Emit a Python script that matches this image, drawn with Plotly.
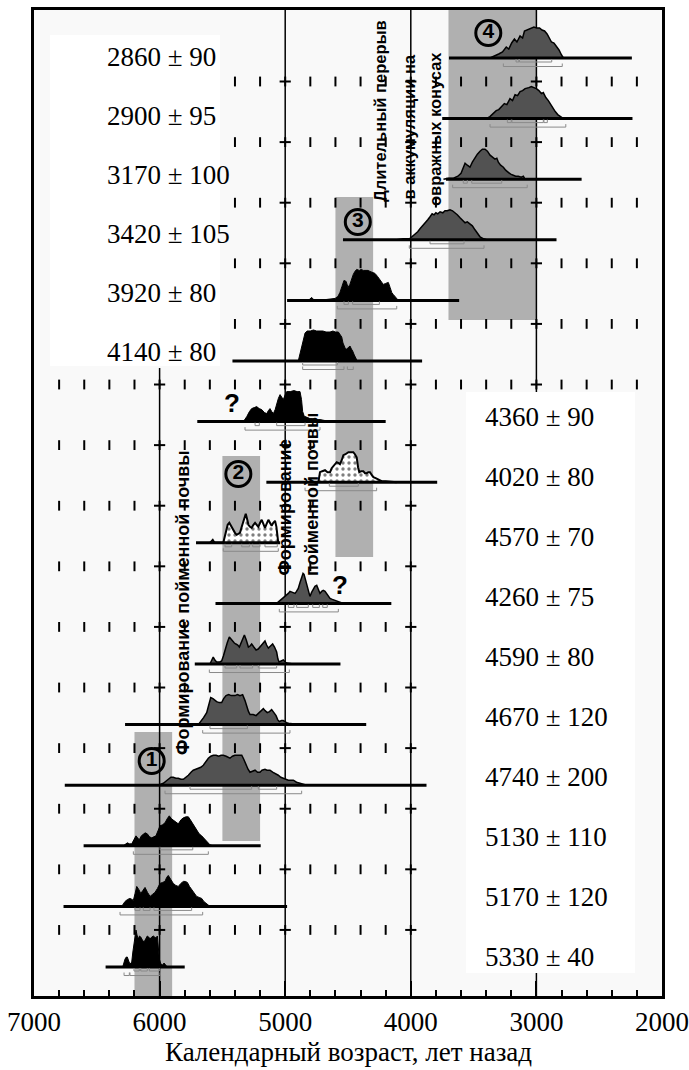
import plotly.graph_objects as go

# ---------------- data ----------------
labels = ["2860 ± 90", "2900 ± 95", "3170 ± 100", "3420 ± 105", "3920 ± 80", "4140 ± 80",
          "4360 ± 90", "4020 ± 80", "4570 ± 70", "4260 ± 75", "4590 ± 80", "4670 ± 120",
          "4740 ± 200", "5130 ± 110", "5170 ± 120", "5330 ± 40"]
styles = ["gray"] * 4 + ["black"] * 3 + ["dots"] * 2 + ["gray"] * 4 + ["black"] * 3
base_from = [3696, 3750, 3720, 4540, 4985, 5420, 5700, 5150, 5710, 5555, 5720, 6275, 6755, 6605, 6765, 6430]
base_to = [2240, 2235, 2640, 2840, 3615, 3910, 4200, 3790, 5040, 4155, 4560, 4355, 3875, 5195, 4985, 5800]

# calibrated probability (calendar year BP, relative density)
d_2860 = [(3370, 0), (3330, 2), (3300, 4), (3270, 6), (3240, 11), (3220, 9), (3197, 15), (3175, 19), (3155, 16),
          (3130, 22), (3110, 20), (3095, 27), (3075, 28), (3050, 29), (3020, 31), (2998, 30), (2975, 30), (2955, 28),
          (2935, 27), (2915, 24), (2900, 20), (2880, 16), (2860, 15), (2840, 12), (2820, 8), (2800, 3), (2785, 0)]
d_2900 = [(3400, 0), (3370, 2), (3345, 5), (3320, 8), (3300, 9), (3280, 12), (3255, 15), (3235, 14), (3210, 20),
          (3190, 18), (3170, 24), (3150, 23), (3130, 27), (3110, 28), (3090, 30), (3060, 31), (3040, 32), (3020, 31),
          (3000, 30), (2980, 28), (2960, 25), (2945, 26), (2925, 21), (2905, 18), (2890, 15), (2870, 10), (2850, 7),
          (2830, 4), (2810, 2), (2785, 0)]
d_3170 = [(3740, 0), (3700, 1), (3660, 1), (3625, 3), (3600, 6), (3585, 10), (3568, 16), (3550, 14), (3529, 12),
          (3510, 17), (3489, 22), (3470, 25), (3449, 28), (3430, 30), (3409, 30), (3390, 28), (3369, 24), (3350, 22),
          (3330, 20), (3315, 21), (3303, 17), (3285, 14), (3263, 12), (3245, 9), (3224, 7), (3205, 5), (3184, 4),
          (3165, 3), (3144, 3), (3120, 2), (3104, 3), (3091, 0)]
d_3420 = [(4112, 0), (4060, 1), (4010, 1), (3990, 3), (3967, 5), (3945, 8), (3927, 11), (3905, 14), (3887, 16),
          (3865, 20), (3847, 23), (3830, 26), (3815, 25), (3800, 27), (3785, 26), (3767, 28), (3745, 27), (3728, 29),
          (3710, 29), (3688, 30), (3668, 29), (3648, 27), (3630, 25), (3608, 22), (3590, 20), (3568, 17), (3550, 18),
          (3529, 16), (3510, 14), (3489, 10), (3470, 6), (3449, 3), (3420, 1), (3396, 0)]
d_3920 = [(4816, 0), (4800, 2), (4789, 3), (4775, 1), (4749, 0.5), (4700, 0.5), (4650, 1), (4603, 2), (4580, 4),
          (4564, 8), (4548, 14), (4532, 20), (4515, 19), (4500, 13), (4485, 16), (4470, 22), (4458, 26), (4445, 29),
          (4431, 31), (4410, 30), (4395, 31), (4378, 30), (4360, 30), (4340, 30), (4325, 29), (4305, 28), (4285, 27),
          (4265, 24), (4245, 20), (4230, 18), (4219, 16), (4200, 17), (4179, 18), (4165, 13), (4152, 8), (4140, 6),
          (4126, 4), (4110, 2), (4099, 0)]
d_4140 = [(4896, 0), (4880, 8), (4869, 15), (4855, 22), (4842, 28), (4825, 30), (4800, 30), (4775, 31), (4750, 30),
          (4723, 30), (4700, 30), (4675, 29), (4643, 29), (4620, 30), (4600, 29), (4577, 29), (4560, 26), (4550, 24),
          (4540, 18), (4532, 15), (4520, 12), (4510, 12), (4497, 14), (4484, 15), (4473, 12), (4463, 10), (4450, 6),
          (4437, 3), (4426, 0)]
d_4360 = [(5333, 0), (5320, 2), (5306, 5), (5285, 10), (5267, 13), (5247, 14), (5227, 15), (5207, 13), (5187, 12),
          (5165, 9), (5147, 8), (5134, 11), (5121, 13), (5107, 10), (5094, 8), (5080, 12), (5068, 18), (5055, 23),
          (5041, 27), (5028, 25), (5015, 22), (5000, 27), (4988, 30), (4960, 30), (4930, 31), (4905, 30), (4882, 30),
          (4870, 22), (4861, 10), (4850, 6), (4842, 5), (4820, 4), (4803, 3), (4780, 3), (4750, 2), (4723, 2),
          (4680, 1), (4643, 1), (4603, 0)]
d_4020 = [(4736, 0), (4723, 10), (4705, 11), (4683, 12), (4663, 10), (4643, 10), (4630, 14), (4617, 16), (4605, 17),
          (4590, 20), (4575, 19), (4564, 18), (4550, 22), (4537, 27), (4520, 28), (4497, 30), (4478, 30), (4458, 30),
          (4445, 28), (4431, 25), (4420, 15), (4410, 10), (4395, 11), (4378, 11), (4365, 9), (4351, 9), (4338, 10),
          (4325, 10), (4310, 7), (4298, 5), (4280, 4), (4259, 3), (4232, 1), (4200, 1), (4166, 0.5), (4112, 0)]
d_4570 = [(5599, 0), (5585, 2), (5577, 3), (5568, 1), (5559, 0), (5493, 0), (5480, 6), (5471, 12), (5458, 18),
          (5445, 20), (5432, 17), (5418, 14), (5400, 10), (5386, 8), (5372, 9), (5360, 10), (5346, 16), (5333, 22),
          (5320, 27), (5314, 29), (5300, 22), (5293, 18), (5280, 16), (5267, 15), (5253, 18), (5240, 20), (5227, 18),
          (5214, 16), (5200, 20), (5187, 23), (5174, 19), (5161, 15), (5148, 19), (5134, 23), (5121, 20), (5108, 17),
          (5095, 20), (5081, 22), (5070, 16), (5063, 10), (5055, 0)]
d_4260 = [(5068, 0), (5041, 3), (5015, 5), (4988, 8), (4975, 10), (4962, 12), (4945, 11), (4922, 10), (4910, 12),
          (4896, 15), (4882, 21), (4869, 27), (4858, 30), (4850, 29), (4840, 24), (4829, 18), (4815, 12), (4803, 7),
          (4790, 11), (4776, 15), (4763, 17), (4749, 18), (4736, 14), (4723, 10), (4710, 12), (4697, 13), (4683, 12),
          (4670, 10), (4657, 7), (4643, 5), (4625, 4), (4603, 3), (4580, 2), (4564, 1), (4537, 0)]
d_4590 = [(5599, 0), (5586, 4), (5573, 7), (5560, 4), (5546, 2), (5520, 2), (5506, 3), (5492, 8), (5479, 15),
          (5462, 21), (5445, 27), (5432, 25), (5418, 22), (5405, 21), (5392, 20), (5378, 19), (5365, 17), (5350, 22),
          (5337, 27), (5325, 29), (5310, 24), (5293, 17), (5280, 18), (5267, 20), (5250, 17), (5232, 14), (5215, 15),
          (5201, 17), (5185, 20), (5174, 22), (5161, 23), (5148, 19), (5134, 16), (5117, 18), (5100, 20), (5085, 17),
          (5068, 12), (5058, 5), (5049, 2), (5032, 3), (5015, 4), (5000, 2), (4988, 1), (4935, 0)]
d_4670 = [(5692, 0), (5673, 3), (5650, 7), (5625, 12), (5610, 20), (5593, 27), (5575, 26), (5560, 24), (5546, 23),
          (5525, 22), (5506, 22), (5490, 26), (5471, 29), (5450, 30), (5430, 29), (5400, 29), (5380, 30), (5360, 29),
          (5339, 30), (5320, 24), (5306, 18), (5292, 13), (5280, 10), (5255, 10), (5232, 9), (5215, 11), (5201, 13),
          (5188, 15), (5174, 16), (5160, 14), (5143, 12), (5125, 13), (5108, 15), (5090, 12), (5073, 9), (5060, 5),
          (5047, 3), (5030, 4), (5015, 4), (4990, 2), (4962, 1), (4920, 0.5), (4882, 0)]
d_4740 = [(6010, 0), (5970, 2), (5950, 4), (5931, 6), (5910, 8), (5891, 8), (5870, 7), (5851, 7), (5830, 6),
          (5811, 6), (5790, 8), (5771, 10), (5750, 13), (5732, 15), (5712, 16), (5692, 17), (5672, 18), (5652, 20),
          (5632, 24), (5612, 27), (5592, 29), (5572, 30), (5550, 30), (5530, 29), (5510, 30), (5493, 30), (5470, 29),
          (5455, 28), (5440, 27), (5420, 29), (5400, 30), (5375, 30), (5346, 30), (5330, 26), (5312, 20), (5296, 16),
          (5280, 13), (5260, 14), (5240, 15), (5220, 13), (5201, 13), (5185, 15), (5161, 16), (5145, 15), (5121, 15),
          (5100, 13), (5081, 12), (5055, 10), (5035, 8), (5015, 7), (4995, 6), (4975, 5), (4955, 5), (4935, 5),
          (4910, 3), (4882, 2), (4860, 1), (4842, 0.5), (4700, 0.3), (4540, 0)]
d_5130 = [(6289, 0), (6270, 2), (6257, 3), (6240, 2), (6222, 2), (6205, 6), (6188, 10), (6175, 8), (6162, 6),
          (6145, 10), (6130, 12), (6115, 13), (6098, 12), (6080, 9), (6063, 8), (6045, 9), (6029, 10), (6013, 15),
          (5997, 20), (5977, 21), (5957, 23), (5940, 27), (5923, 30), (5905, 27), (5885, 25), (5868, 23), (5851, 22),
          (5830, 26), (5811, 28), (5790, 29), (5771, 29), (5755, 26), (5736, 22), (5720, 18), (5705, 15), (5685, 12),
          (5665, 10), (5645, 7), (5625, 5), (5610, 2), (5599, 1), (5573, 0)]
d_5170 = [(6302, 0), (6290, 2), (6275, 5), (6255, 7), (6236, 8), (6220, 7), (6209, 6), (6195, 13), (6182, 20),
          (6166, 17), (6150, 13), (6133, 16), (6116, 19), (6096, 14), (6076, 10), (6057, 12), (6037, 14), (6017, 18),
          (5997, 23), (5977, 24), (5957, 25), (5944, 29), (5931, 31), (5911, 27), (5891, 23), (5871, 21), (5851, 20),
          (5831, 23), (5811, 25), (5795, 25), (5779, 24), (5762, 20), (5745, 17), (5725, 13), (5705, 10), (5685, 9),
          (5665, 8), (5648, 5), (5631, 3), (5615, 1), (5599, 0)]
d_5330 = [(6294, 0), (6285, 4), (6275, 8), (6265, 10), (6257, 10), (6246, 6), (6236, 3), (6228, 4), (6222, 5),
          (6213, 15), (6204, 25), (6196, 33), (6188, 37), (6180, 32), (6170, 28), (6160, 31), (6150, 30), (6137, 27),
          (6124, 25), (6111, 28), (6098, 31), (6087, 30), (6076, 28), (6063, 30), (6050, 31), (6040, 30), (6029, 29),
          (6018, 31), (6010, 20), (6002, 8), (5990, 3), (5975, 2), (5965, 4), (5957, 3), (5945, 1), (5939, 0)]
dists = [d_2860, d_2900, d_3170, d_3420, d_3920, d_4140, d_4360, d_4020, d_4570, d_4260, d_4590, d_4670,
         d_4740, d_5130, d_5170, d_5330]

# 1-sigma and 2-sigma calibrated ranges
s1 = [[(3162, 3140), (3135, 2878)], [(3231, 3200), (3195, 2945), (2940, 2913)], [(3582, 3550), (3515, 3276)],
      [(3847, 3576)], [(4532, 4497), (4463, 4250)], [(4861, 4585)], [(5240, 5206), (5068, 4842)], [(4649, 4418)],
      [(5479, 5426), (5346, 5285), (5259, 5201), (5161, 5063)],
      [(4975, 4930), (4909, 4816), (4781, 4728), (4701, 4665)],
      [(5479, 5386), (5360, 5259), (5214, 5068)], [(5599, 5301)], [(5758, 5267), (5214, 5068)], [(5997, 5736)],
      [(6196, 6156), (6130, 6076), (6045, 5745)], [(6204, 6162), (6150, 6098), (6082, 6002)]]
s2 = [[(3263, 2794)], [(3369, 2766)], [(3667, 3073)], [(4012, 3417)], [(4585, 4112)],
      [(4861, 4532), (4505, 4458)], [(5320, 4723)], [(4842, 4272)], [(5493, 5055)], [(5047, 4577)],
      [(5604, 4967)], [(5657, 4962)], [(5957, 4869)], [(6209, 5612)], [(6315, 5657)],
      [(6283, 6241), (6236, 5997)]]

x_major = [7000, 6000, 5000, 4000, 3000, 2000]
x_minor = [y for y in range(2200, 7000, 200) if y % 1000]

# ---------------- layout helpers ----------------
N = len(labels)
PX = 60.6          # pixels per row
Y_MIN, Y_MAX = -0.478, 15.792


def base(r):
    return (N - 1) - r


def py(px):  # pixel row (from figure top) to y-units
    return (N - 1) - (px - 58.0) / PX


def pp(px):  # pixel row to paper fraction
    return (py(px) - Y_MIN) / (Y_MAX - Y_MIN)


fig = go.Figure()

# distributions
for r in range(N):
    b = base(r)
    xs = [p[0] for p in dists[r]]
    ys = [b + p[1] / PX for p in dists[r]]
    xs = [xs[0]] + xs + [xs[-1]]
    ys = [b] + ys + [b]
    st = styles[r]
    kw = dict(x=xs, y=ys, mode="lines", fill="toself", hoverinfo="skip")
    if st == "gray":
        kw.update(fillcolor="#525252", line=dict(color="black", width=1.5))
    elif st == "black":
        kw.update(fillcolor="black", line=dict(color="black", width=1))
    else:
        kw.update(fillcolor="white", line=dict(color="black", width=2),
                  fillpattern=dict(shape=".", fgcolor="black", bgcolor="white", size=6, solidity=0.25))
    fig.add_trace(go.Scatter(**kw))

# baselines
bx, by = [], []
for r in range(N):
    bx += [base_from[r], base_to[r], None]
    by += [base(r), base(r), None]
fig.add_trace(go.Scatter(x=bx, y=by, mode="lines", line=dict(color="black", width=3), hoverinfo="skip"))

# range brackets
kx, ky = [], []
cap = 3.0 / PX
for r in range(N):
    for lev, dy in ((s1[r], 4.0), (s2[r], 8.5)):
        yy = base(r) - dy / PX
        for a, c in lev:
            kx += [a, a, c, c, None]
            ky += [yy + cap, yy, yy, yy + cap, None]
fig.add_trace(go.Scatter(x=kx, y=ky, mode="lines", line=dict(color="#8a8a8a", width=1), hoverinfo="skip"))

# tick rows between the plots
tx, ty, cx, cy = [], [], [], []
for k in range(N - 1):
    yy = base(k) - 23.5 / PX
    if k < 5:
        lo, hi = 2200, 5400
    elif k == 5:
        lo, hi = 2200, 6800
    else:
        lo, hi = 4000, 6800
    for yr in range(lo, hi + 1, 200):
        tx.append(yr)
        ty.append(yy)
        if yr in (6000, 5000, 4000, 3000):
            cx.append(yr)
            cy.append(yy)
fig.add_trace(go.Scatter(x=tx, y=ty, mode="markers", hoverinfo="skip",
                         marker=dict(symbol="line-ns", size=7, color="black", line=dict(width=2, color="black"))))
fig.add_trace(go.Scatter(x=cx, y=cy, mode="markers", hoverinfo="skip",
                         marker=dict(symbol="line-ew", size=8, color="black", line=dict(width=2, color="black"))))

# circled phase numbers
fig.add_trace(go.Scatter(
    x=[6063, 5373, 4422, 3383], y=[py(761), py(474), py(222), py(33)],
    mode="markers+text", text=["1", "2", "3", "4"], textposition="middle center",
    textfont=dict(family="Liberation Sans", size=21, color="black", weight="bold"),
    marker=dict(symbol="circle-open", size=25, color="black", line=dict(width=3, color="black")),
    hoverinfo="skip"))

# ---------------- shapes ----------------
shapes = []
band_col = "#b0b0b0"
shapes.append(dict(type="rect", xref="x", yref="paper", x0=6200, x1=5900, y0=0, y1=pp(732),
                   fillcolor=band_col, line=dict(width=0), layer="below"))
shapes.append(dict(type="rect", xref="x", yref="y", x0=5500, x1=5200, y0=py(841), y1=py(456),
                   fillcolor=band_col, line=dict(width=0), layer="below"))
shapes.append(dict(type="rect", xref="x", yref="y", x0=4600, x1=4300, y0=py(557), y1=py(197),
                   fillcolor=band_col, line=dict(width=0), layer="below"))
shapes.append(dict(type="rect", xref="x", yref="paper", x0=3700, x1=3000, y0=pp(320), y1=1,
                   fillcolor=band_col, line=dict(width=0), layer="below"))
# vertical reference lines
for xv in (5000, 4000, 3000):
    shapes.append(dict(type="line", xref="x", yref="paper", x0=xv, x1=xv, y0=0, y1=1,
                       line=dict(color="black", width=1.5), layer="below"))
shapes.append(dict(type="line", xref="x", yref="y", x0=6000, x1=6000, y0=Y_MIN, y1=py(368),
                   line=dict(color="black", width=1.5), layer="below"))
# white label panels
shapes.append(dict(type="rect", xref="x", yref="y", x0=6873, x1=5519, y0=py(366), y1=py(35),
                   fillcolor="white", line=dict(width=0), layer="below"))
shapes.append(dict(type="rect", xref="x", yref="y", x0=3560, x1=2215, y0=py(973), y1=py(392),
                   fillcolor="white", line=dict(width=0), layer="below"))

# ---------------- annotations ----------------
ann = []
serif = "Liberation Serif"
sans = "Liberation Sans"
for r in range(N):
    if r < 6:
        x0, ypx = 6435, 56.7 + 59.0 * r
    else:
        x0, ypx = 3425, 416.7 + 60.0 * (r - 6)
    ann.append(dict(x=x0, y=py(ypx), xref="x", yref="y", text=labels[r], showarrow=False,
                    xanchor="left", yanchor="middle", font=dict(family=serif, size=27, color="black")))


def vtext(txt, xyr, ypx, anchor, size):
    ann.append(dict(x=xyr, y=py(ypx), xref="x", yref="y", text="<b>" + txt + "</b>", textangle=-90,
                    showarrow=False, xanchor="center", yanchor=anchor,
                    font=dict(family=sans, size=size, color="black")))


vtext("Формирование пойменной почвы", 5814, 602, "middle", 18)
vtext("Формирование", 5005, 578, "bottom", 18)
vtext("пойменной почвы", 4790, 578, "bottom", 18)
vtext("Длительный перерыв", 4245, 204, "bottom", 16.5)
vtext("в аккумуляции на", 4022, 202, "bottom", 16.5)
vtext("овражных конусах", 3807, 208, "bottom", 16.5)

for qx, qy in ((5426, 403), (4564, 585)):
    ann.append(dict(x=qx, y=py(qy), xref="x", yref="y", text="<b>?</b>", showarrow=False,
                    font=dict(family=sans, size=26, color="black")))
ann.append(dict(x=0.5, y=-0.057, xref="paper", yref="paper", text="Календарный возраст, лет назад",
                showarrow=False, xanchor="center", yanchor="middle",
                font=dict(family=serif, size=27, color="black")))

fig.update_layout(
    width=689, height=1070,
    margin=dict(l=34, r=27, t=10, b=74, autoexpand=False),
    paper_bgcolor="white", plot_bgcolor="#f9f9f9",
    showlegend=False, hovermode=False,
    shapes=shapes, annotations=ann,
    xaxis=dict(range=[7000, 2000], tickmode="array", tickvals=x_major, ticktext=[str(v) for v in x_major],
               ticks="inside", ticklen=15, tickwidth=2, tickcolor="black", automargin=False,
               minor=dict(tickmode="array", tickvals=x_minor, ticks="inside", ticklen=6, tickwidth=2,
                          tickcolor="black", showgrid=False),
               showgrid=False, zeroline=False, showline=True, linewidth=3, linecolor="black", mirror=True,
               tickfont=dict(family=serif, size=27, color="black")),
    yaxis=dict(range=[Y_MIN, Y_MAX], showticklabels=False, ticks="", showgrid=False, zeroline=False,
               automargin=False, showline=True, linewidth=3, linecolor="black", mirror=True),
)

fig.write_html("out.html", config={"displayModeBar": False},
               post_script="document.body.style.margin='0';document.body.style.overflow='hidden';")
